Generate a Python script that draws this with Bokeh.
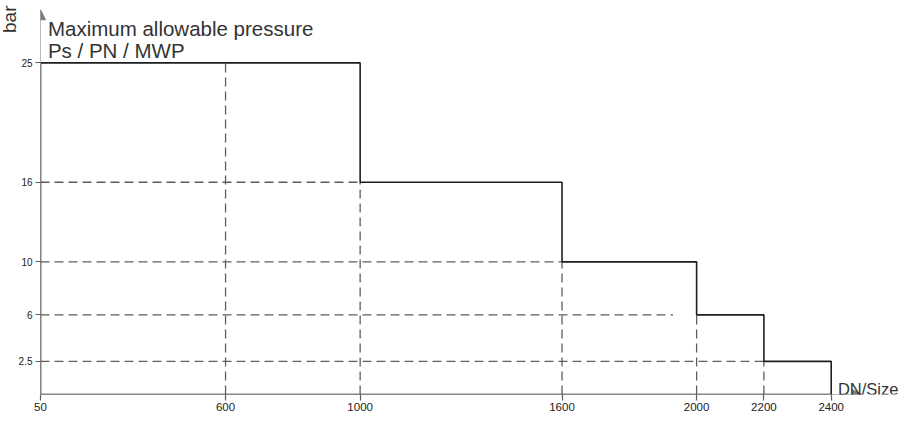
from bokeh.plotting import figure
from bokeh.models import Range1d, FixedTicker, Arrow, NormalHead, Label, Title
from bokeh.embed import file_html
from bokeh.resources import INLINE

# ---- data ----
dn_steps = [50, 1000, 1600, 2000, 2200, 2400]      # DN boundaries of each pressure class
pressures = [25, 16, 10, 6, 2.5]                   # max allowable pressure (bar)
x_ticks = [50, 600, 1000, 1600, 2000, 2200, 2400]
y_ticks = [2.5, 6, 10, 16, 25]

# horizontal dashed guides: level -> end DN
h_guide_levels = [16, 10, 6, 2.5]
h_guide_ends = [1000, 1600, 1930, 2200]
# vertical dashed guides: DN -> top level
v_guide_dn = [600, 1000, 1600, 2000, 2200]
v_guide_top = [25, 16, 10, 6, 2.5]

FONT = "Liberation Sans"
SOLID = "#1e1e1e"
DASH = "#5e5e5e"

p = figure(width=899, height=413, output_backend="svg", toolbar_location=None,
           title=None, x_range=Range1d(50, 2603), y_range=Range1d(0, 29.7),
           min_border_left=38, min_border_right=0, min_border_top=0, min_border_bottom=0)
p.outline_line_color = None
p.xgrid.visible = False
p.ygrid.visible = False
p.background_fill_color = "white"
p.border_fill_color = "white"

# axes
p.xaxis.ticker = FixedTicker(ticks=x_ticks)
p.yaxis.ticker = FixedTicker(ticks=y_ticks)
p.xaxis.major_label_overrides = {v: str(v) for v in x_ticks}
p.yaxis.major_label_overrides = {v: (str(v) if v != int(v) else str(int(v))) for v in y_ticks}
for ax in (p.xaxis, p.yaxis):
    ax.axis_line_color = None
    ax.minor_tick_line_color = None
    ax.major_tick_in = 0
    ax.major_tick_out = 5
    ax.major_tick_line_color = DASH
    ax.major_tick_line_width = 1.2
    ax.major_label_text_font = FONT
    ax.major_label_text_color = "#222222"
p.xaxis.major_tick_out = 6
p.xaxis.major_label_text_font_size = "11.5px"
p.xaxis.major_label_standoff = 2
p.yaxis.major_label_text_font_size = "10px"
p.yaxis.major_label_standoff = 3

# vertical unit label on the left, at the top
p.add_layout(Title(text="bar", align="right", text_font=FONT, text_font_size="19px",
                   text_font_style="normal", text_color="#333333", standoff=-8, offset=5), "left")

# axis arrows
head = dict(size=10, fill_color="#7a7a7a", line_color="#7a7a7a")
p.add_layout(Arrow(x_start=50, y_start=0, x_end=50, y_end=29.0,
                   line_color="#7a7a7a", line_width=1, end=NormalHead(**head)))
p.add_layout(Arrow(x_start=50, y_start=0, x_end=2492, y_end=0,
                   line_color="#7a7a7a", line_width=1, end=NormalHead(**head)))

# dashed guides
p.segment(x0=[50] * len(h_guide_levels), y0=h_guide_levels, x1=h_guide_ends, y1=h_guide_levels,
          line_color=DASH, line_width=1.3, line_dash="9 5")
p.segment(x0=v_guide_dn, y0=[0] * len(v_guide_dn), x1=v_guide_dn, y1=v_guide_top,
          line_color=DASH, line_width=1.3, line_dash="9 5")

# solid step outline (closed)
xs = [dn_steps[0]]
ys = [0]
for i, pr in enumerate(pressures):
    xs += [dn_steps[i], dn_steps[i + 1]]
    ys += [pr, pr]
xs += [dn_steps[-1], dn_steps[0]]
ys += [0, 0]
p.line(xs, ys, line_color=SOLID, line_width=1.6)

# texts
common = dict(text_font=FONT, text_color="#333333")
p.add_layout(Label(x=72, y=27.58, text="Maximum allowable pressure", text_font_size="20.5px",
                   text_baseline="alphabetic", **common))
p.add_layout(Label(x=72, y=25.9, text="Ps / PN / MWP", text_font_size="20.5px",
                   text_baseline="alphabetic", **common))
p.add_layout(Label(x=2420, y=0.45, text="DN/Size", text_font_size="16.5px",
                   text_baseline="alphabetic", **common))

open("out.html", "w").write(file_html(p, INLINE))
